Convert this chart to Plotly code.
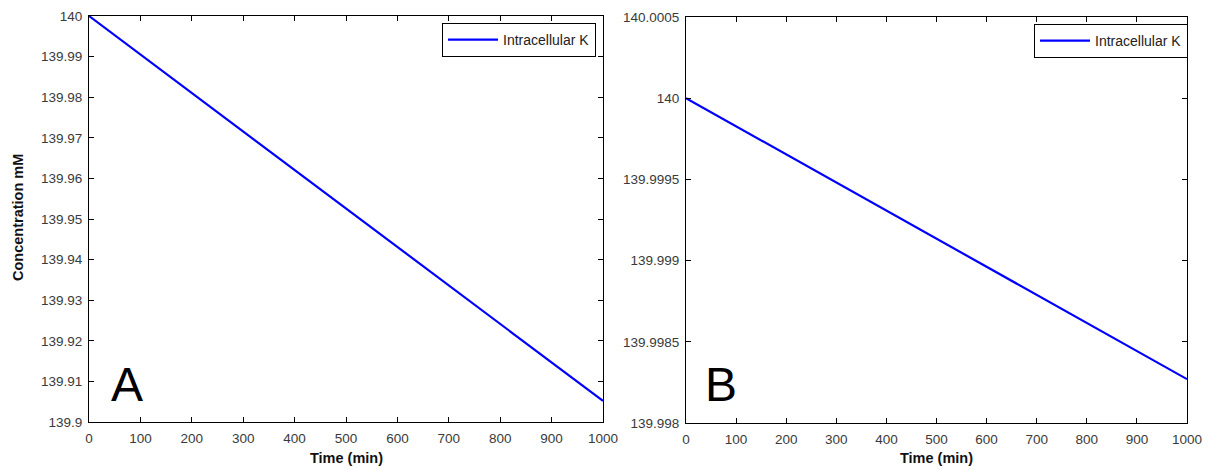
import plotly.graph_objects as go

# Simulated intracellular potassium over time (two scenarios)
time_min = [0, 1000]
conc_a = [140.0, 139.9052]
conc_b = [140.0, 139.99827]

x_ticks = [0, 100, 200, 300, 400, 500, 600, 700, 800, 900, 1000]
y_ticks_a = [139.9, 139.91, 139.92, 139.93, 139.94, 139.95, 139.96, 139.97, 139.98, 139.99, 140.0]
y_labels_a = ["139.9", "139.91", "139.92", "139.93", "139.94", "139.95",
              "139.96", "139.97", "139.98", "139.99", "140"]
y_ticks_b = [139.998, 139.9985, 139.999, 139.9995, 140.0, 140.0005]
y_labels_b = ["139.998", "139.9985", "139.999", "139.9995", "140", "140.0005"]

W, H = 1211, 470
FONT = "Liberation Sans, Arial, sans-serif"
TICK_COLOR = "#3a3a3a"

fig = go.Figure()
fig.add_trace(go.Scatter(x=time_min, y=conc_a, mode="lines", name="Intracellular K",
                         line=dict(color="#0000ff", width=2.2),
                         xaxis="x", yaxis="y", legend="legend"))
fig.add_trace(go.Scatter(x=time_min, y=conc_b, mode="lines", name="Intracellular K",
                         line=dict(color="#0000ff", width=2.2),
                         xaxis="x2", yaxis="y2", legend="legend2"))

def px_x(p):
    return p / W

def px_y(p):
    return 1 - p / H

axis_common = dict(showline=True, linecolor="black", linewidth=1, mirror="ticks",
                   ticks="inside", ticklen=5, tickcolor="black", showgrid=False,
                   zeroline=False, automargin=False,
                   tickfont=dict(family=FONT, size=13.5, color=TICK_COLOR))

legend_style = dict(xanchor="right", yanchor="top",
                    bordercolor="black", borderwidth=1, bgcolor="white",
                    font=dict(family=FONT, size=14, color="#222"),
                    itemwidth=50, tracegroupgap=0)

fig.update_layout(
    width=W, height=H,
    margin=dict(l=0, r=0, t=0, b=0, autoexpand=False),
    paper_bgcolor="white", plot_bgcolor="white",
    xaxis=dict(domain=[px_x(89), px_x(603)], range=[0, 1000], tickvals=x_ticks,
               anchor="y", ticklabelstandoff=4, **axis_common),
    yaxis=dict(domain=[px_y(422), px_y(16)], range=[139.9, 140.0], tickvals=y_ticks_a,
               ticktext=y_labels_a, anchor="x", ticklabelstandoff=3, **axis_common),
    xaxis2=dict(domain=[px_x(686), px_x(1187)], range=[0, 1000], tickvals=x_ticks,
                anchor="y2", ticklabelstandoff=4, **axis_common),
    yaxis2=dict(domain=[px_y(423), px_y(17)], range=[139.998, 140.0005], tickvals=y_ticks_b,
                ticktext=y_labels_b, anchor="x2", ticklabelstandoff=3, **axis_common),
    legend=dict(x=px_x(596), y=px_y(23), **legend_style),
    legend2=dict(x=px_x(1188), y=px_y(24), **legend_style),
    showlegend=True,
)

title_font = dict(family=FONT, size=14.5, color="#111")
annotations = [
    dict(text="<b>Time (min)</b>", x=px_x(346), y=px_y(458), font=title_font),
    dict(text="<b>Time (min)</b>", x=px_x(936), y=px_y(458), font=title_font),
    dict(text="<b>Concentration mM</b>", x=px_x(18), y=px_y(218), textangle=-90,
         font=title_font),
    dict(text="A", x=px_x(127), y=px_y(384), font=dict(family=FONT, size=48, color="black")),
    dict(text="B", x=px_x(721), y=px_y(384), font=dict(family=FONT, size=48, color="black")),
]
for a in annotations:
    a.update(xref="paper", yref="paper", xanchor="center", yanchor="middle", showarrow=False)
fig.update_layout(annotations=annotations)

fig.write_html("out.html")
